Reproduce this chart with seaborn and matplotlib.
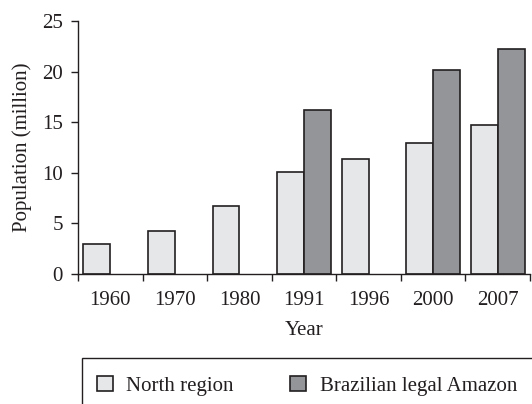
import numpy as np
import pandas as pd
import matplotlib
matplotlib.use("Agg")
import matplotlib.pyplot as plt
import seaborn as sns
from matplotlib.patches import Rectangle

years = ["1960", "1970", "1980", "1991", "1996", "2000", "2007"]
north_region = [3.0, 4.3, 6.7, 10.1, 11.4, 13.0, 14.7]
legal_amazon = [np.nan, np.nan, np.nan, 16.2, np.nan, 20.2, 22.3]
series_names = ["North region", "Brazilian legal Amazon"]
series_colors = ["#e6e7e9", "#939598"]

df = pd.DataFrame({
    "Year": years * 2,
    "Population": north_region + legal_amazon,
    "Series": [series_names[0]] * len(years) + [series_names[1]] * len(years),
})

sns.set_theme(style="ticks")
plt.rcParams["font.family"] = ["Liberation Serif", "DejaVu Serif"]
ink = "#231f20"
fs = 15

fig = plt.figure(figsize=(5.32, 4.04), dpi=100)
ax = fig.add_axes([78 / 532, 1 - 274 / 404, (530 - 78) / 532, (274 - 21.3) / 404])

sns.barplot(data=df, x="Year", y="Population", hue="Series", order=years,
            hue_order=series_names, palette=series_colors, width=0.83,
            edgecolor=ink, linewidth=1.2, ax=ax, legend=False, errorbar=None,
            saturation=1)

ax.set_xlim(-0.5, len(years) - 0.5)
ax.set_ylim(0, 25)
ax.set_yticks([0, 5, 10, 15, 20, 25])
ax.set_xticks(range(len(years)))
ax.set_xticklabels(years)
ax.set_xticks(np.arange(-0.5, len(years)), minor=True)
ax.tick_params(axis="x", which="major", length=0, pad=12.5, labelsize=fs, colors=ink)
ax.tick_params(axis="x", which="minor", length=4.7, width=1, color=ink, direction="out")
ax.tick_params(axis="y", length=5, width=1, color=ink, labelsize=fs, labelcolor=ink, pad=6)

for s in ["top", "right"]:
    ax.spines[s].set_visible(False)
for s in ["left", "bottom"]:
    ax.spines[s].set_color(ink)
    ax.spines[s].set_linewidth(1)

ax.set_xlabel("Year", fontsize=fs, color=ink, labelpad=8)
ax.set_ylabel("Population (million)", fontsize=fs, color=ink, labelpad=7)

handles = [Rectangle((0, 0), 1, 1, facecolor=c, edgecolor=ink, linewidth=1.2) for c in series_colors]
leg = fig.legend(handles, series_names, loc="upper left",
                 bbox_to_anchor=(76 / 532, 1 - 355 / 404), ncol=2, frameon=False,
                 fontsize=fs, handlelength=0.77, handleheight=0.77,
                 handletextpad=0.64, columnspacing=2.72, borderpad=0.5)
for t in leg.get_texts():
    t.set_color(ink)
fig.patches.append(Rectangle((82 / 532, -0.1), 0.9, 1 - 358 / 404 + 0.1,
                             transform=fig.transFigure, fill=False,
                             edgecolor=ink, linewidth=1))

fig.savefig("out.png", dpi=100)
